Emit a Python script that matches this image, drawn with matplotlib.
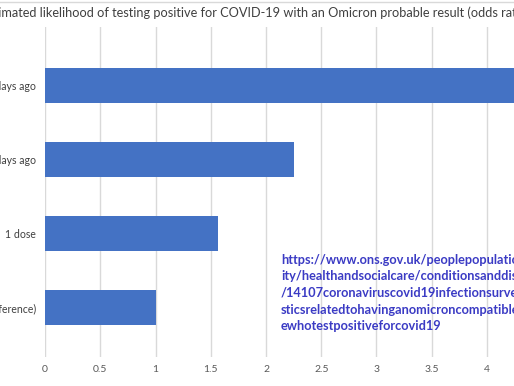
import matplotlib
matplotlib.use("Agg")
import matplotlib.pyplot as plt
import numpy as np

plt.rcParams['font.family'] = ['Lato', 'DejaVu Sans']

# categories bottom -> top (Excel order)
categories = ["3 doses (reference)", "1 dose", "2 doses, 14-90 days ago", "2 doses, 90+ days ago"]
odds = [1.0, 1.57, 2.25, 4.6]
xticks = [0, 0.5, 1, 1.5, 2, 2.5, 3, 3.5, 4, 4.5, 5]

title = "Estimated likelihood of testing positive for COVID-19 with an Omicron probable result (odds ratio)"
url_lines = [
    "https://www.ons.gov.uk/peoplepopulationandcommun",
    "ity/healthandsocialcare/conditionsanddiseases/datasets",
    "/14107coronaviruscovid19infectionsurveycharacteri",
    "sticsrelatedtohavinganomicroncompatibleresultthanth",
    "ewhotestpositiveforcovid19",
]

W, H = 514, 386
fig = plt.figure(figsize=(W / 100, H / 100), dpi=100)
ax = fig.add_axes([45 / W, (H - 357) / H, 552.5 / W, 330 / H])

y = np.arange(len(categories))
ax.barh(y, odds, height=0.47, color="#4472C4", zorder=3)
ax.set_xlim(0, 5)
ax.set_ylim(-0.67, 3.79)
ax.set_xticks(xticks)
ax.set_xticklabels([("%g" % t) for t in xticks], fontsize=7.5, color="#595959")
ax.set_yticks(y)
ax.set_yticklabels(categories, fontsize=7.6, color="#404040")
ax.tick_params(axis="y", length=0, pad=6.5)
ax.tick_params(axis="x", length=0, pad=6)
ax.grid(axis="x", color="#d9d9d9", linewidth=1, zorder=0)
for s in ax.spines.values():
    s.set_visible(False)

fig.text(-19 / W, 1 - 13 / H, title, ha="left", va="center", fontsize=9.2,
         color="#404040")
fig.lines.append(plt.Line2D([0, 1], [1 - 1.5 / H, 1 - 1.5 / H], transform=fig.transFigure,
                            color="#d9d9d9", linewidth=1))

fig.text(281 / W, 1 - 254 / H, "\n".join(url_lines), ha="left", va="top", fontsize=9.2,
         color="#3b3bc4", fontweight="bold", linespacing=1.45)

fig.savefig("out.png", dpi=100)
